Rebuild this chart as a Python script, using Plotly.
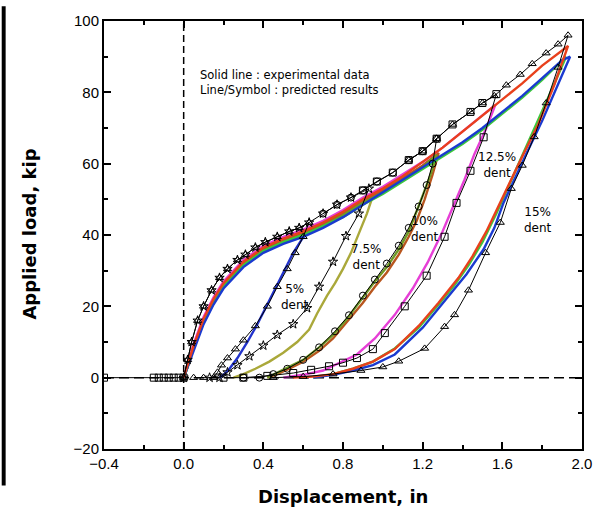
import plotly.graph_objects as go

# ---------------- experimental data (solid coloured lines) ----------------
exp5_x = [0, 0.02, 0.05, 0.1, 0.15, 0.2, 0.25, 0.3, 0.35, 0.4, 0.45, 0.5, 0.55, 0.6, 0.62,
          0.59, 0.55, 0.51, 0.47, 0.42, 0.37, 0.32, 0.27, 0.23, 0.2, 0.18]
exp5_y = [0, 3, 8.5, 15.5, 21, 25.5, 29, 31.5, 33.5, 35.5, 37, 38.5, 39.5, 40.5, 41,
          38.5, 35, 30.5, 26, 20.5, 15, 10, 5.5, 2.5, 0.8, 0]

exp75_x = [0, 0.02, 0.05, 0.1, 0.15, 0.2, 0.25, 0.3, 0.35, 0.4, 0.45, 0.5, 0.55, 0.6, 0.7, 0.8, 0.9, 0.95,
           0.92, 0.88, 0.84, 0.8, 0.76, 0.72, 0.67, 0.63, 0.57, 0.5, 0.43, 0.36, 0.3, 0.25]
exp75_y = [0, 3.5, 9, 16, 21.5, 26, 29.5, 32, 34, 36, 37.5, 38.5, 39.5, 40.5, 43, 46, 49.5, 51,
           46, 40.5, 35, 30.5, 26.5, 23, 18, 13.5, 10, 7, 4.5, 2.5, 1, 0]

exp10a_x = [0, 0.02, 0.05, 0.1, 0.15, 0.2, 0.3, 0.4, 0.5, 0.6, 0.7, 0.8, 0.9, 1.0, 1.1, 1.2, 1.27,
            1.24, 1.2, 1.16, 1.13, 1.08, 1.02, 0.96, 0.9, 0.82, 0.75, 0.68, 0.6, 0.53, 0.47, 0.42]
exp10a_y = [0, 3, 8.5, 15.5, 21, 25.5, 31.5, 35.5, 38, 40, 42.5, 45.5, 49, 52, 55.5, 59, 62.5,
            57, 51, 45, 41, 36, 31, 27, 22.5, 16.5, 12, 8.5, 5, 3, 1.5, 0]

exp10b_x = [0, 0.02, 0.05, 0.1, 0.15, 0.2, 0.3, 0.4, 0.5, 0.6, 0.7, 0.8, 0.9, 1.0, 1.1, 1.2, 1.28,
            1.25, 1.21, 1.17, 1.13, 1.08, 1.02, 0.96, 0.9, 0.82, 0.75, 0.68, 0.6, 0.53, 0.47, 0.42]
exp10b_y = [0, 3.5, 9, 16, 21.5, 26, 32, 36, 38.5, 40.5, 43, 46, 49.5, 52.5, 56, 59.5, 63,
            57, 50, 44, 39.5, 34.5, 29.5, 25.5, 21, 15.5, 11, 7.5, 4.5, 2.5, 1, 0]

exp125_x = [0, 0.02, 0.05, 0.1, 0.15, 0.2, 0.3, 0.4, 0.5, 0.6, 0.7, 0.8, 0.9, 1.0, 1.1, 1.2, 1.3, 1.4, 1.5, 1.565,
            1.52, 1.46, 1.41, 1.36, 1.3, 1.225, 1.15, 1.06, 0.96, 0.87, 0.77, 0.7, 0.6, 0.5]
exp125_y = [0, 4, 9.5, 17, 22.5, 27, 33, 37, 39.5, 41.5, 44, 47, 50.5, 53.5, 57, 60.5, 64.5, 69, 73.5, 76.5,
            70, 62.7, 55.5, 49, 41, 32.3, 25, 17.6, 11, 6.5, 3.8, 2, 0.8, 0]

exp15r_x = [0, 0.02, 0.05, 0.1, 0.15, 0.2, 0.3, 0.4, 0.5, 0.6, 0.7, 0.8, 0.9, 1.0, 1.1, 1.2, 1.3, 1.4, 1.5, 1.6, 1.7, 1.8, 1.93,
            1.86, 1.78, 1.7, 1.64, 1.58, 1.52, 1.45, 1.38, 1.28, 1.18, 1.06, 0.95, 0.85, 0.75, 0.65, 0.55]
exp15r_y = [0, 3.5, 9, 16.5, 22, 26.5, 32.5, 36.5, 39, 41, 43.5, 46.5, 50, 53, 56.5, 60.5, 64.5, 69, 73.5, 78, 82.5, 87.5, 93,
            82, 71, 62, 55, 48, 41, 34, 28, 21, 14.5, 8, 4.5, 2.5, 1, 0.3, 0]

exp15g_x = [0, 0.02, 0.05, 0.1, 0.15, 0.2, 0.3, 0.4, 0.5, 0.6, 0.7, 0.8, 0.9, 1.0, 1.1, 1.2, 1.3, 1.4, 1.5, 1.6, 1.7, 1.8, 1.92,
            1.85, 1.77, 1.7, 1.63, 1.57, 1.5, 1.43, 1.36, 1.28, 1.18, 1.06, 0.95, 0.85, 0.75, 0.65]
exp15g_y = [0, 3, 8.5, 15.5, 21, 25.5, 31.5, 35.5, 38, 40, 42.5, 45, 48.5, 51.5, 55, 58.5, 62, 65.5, 69.5, 74, 78.5, 83.5, 90,
            81, 71, 62, 53.5, 46, 38, 31.5, 26, 20.5, 14, 8.2, 4.5, 2.5, 1, 0]

exp15b_x = [0, 0.02, 0.05, 0.1, 0.15, 0.2, 0.3, 0.4, 0.5, 0.6, 0.7, 0.8, 0.9, 1.0, 1.1, 1.2, 1.3, 1.4, 1.5, 1.6, 1.7, 1.8, 1.9, 1.94,
            1.87, 1.8, 1.72, 1.66, 1.605, 1.56, 1.506, 1.42, 1.31, 1.2, 1.06, 0.95, 0.85, 0.75, 0.65]
exp15b_y = [0, 3, 8, 15, 20.5, 25, 31, 35, 37.5, 39.5, 42, 45, 48.5, 52, 55.5, 59, 62.5, 66, 70, 74.5, 79, 84, 89, 90,
            81, 72, 62.7, 55.5, 48.9, 42, 36, 29, 21.5, 14, 6.5, 3.5, 2, 0.8, 0]

# ---------------- predicted results (black line + open symbols) ----------------
pre_x = [-0.4, -0.15, -0.125, -0.1, -0.075, -0.05, -0.025, 0]
pre_y = [0, 0, 0, 0, 0, 0, 0, 0]

p5_x = [0, 0.02, 0.04, 0.07, 0.1, 0.14, 0.18, 0.22, 0.27, 0.31, 0.36, 0.41, 0.47, 0.53, 0.58, 0.63,
        0.6, 0.56, 0.52, 0.47, 0.42, 0.36, 0.3, 0.26, 0.22, 0.19, 0.17, 0.15, 0.1, 0.05]
p5_y = [0, 5, 10, 16, 20, 24.5, 28, 30.5, 33, 34.5, 36.5, 38, 39.5, 41, 42, 43.5,
        39.5, 35, 30.5, 25.5, 20, 14.5, 10.5, 8, 5.5, 3.5, 1.5, 0, 0, 0]

p75_x = [0, 0.02, 0.04, 0.07, 0.1, 0.14, 0.18, 0.22, 0.27, 0.31, 0.36, 0.41, 0.47, 0.53, 0.58, 0.63, 0.7, 0.77, 0.84, 0.93,
         0.88, 0.815, 0.75, 0.68, 0.62, 0.55, 0.47, 0.4, 0.33, 0.27, 0.22, 0.18, 0.13]
p75_y = [0, 5, 10, 16, 20, 24.5, 28, 30.5, 33, 34.5, 36.5, 38, 39.5, 41, 42, 43.5, 46, 48.5, 50.5, 53,
         46, 39.7, 32.5, 25.5, 19.5, 15, 12, 9, 6, 3.5, 1.5, 0, 0]

p10_x = [0.7, 0.77, 0.84, 0.9, 0.97, 1.05, 1.13, 1.2, 1.27,
         1.25, 1.22, 1.18, 1.13, 1.08, 1.02, 0.96, 0.9, 0.83, 0.76, 0.68, 0.6, 0.52, 0.45, 0.38, 0.3]
p10_y = [46, 48.5, 50.5, 52.5, 55, 57.5, 61, 63.5, 67,
         60, 54, 48, 42, 37, 32, 27.5, 23, 17.5, 13, 8.5, 5, 2.5, 1, 0, 0]

p125_x = [0.9, 0.97, 1.05, 1.13, 1.2, 1.27, 1.35, 1.44, 1.5, 1.57,
          1.506, 1.44, 1.37, 1.31, 1.22, 1.11, 1.01, 0.95, 0.87, 0.8, 0.73, 0.64, 0.55, 0.42, 0.3, 0.2]
p125_y = [52.5, 55, 57.5, 61, 63.5, 67, 71, 74.5, 77, 79.5,
          67.4, 58, 49, 39.5, 28.6, 20, 12.5, 8, 5.5, 4.2, 3.2, 2.2, 1.3, 0.5, 0, 0]

p15_x = [1.13, 1.2, 1.27, 1.35, 1.44, 1.5, 1.56, 1.62, 1.69, 1.75, 1.82, 1.88, 1.93,
         1.88, 1.82, 1.76, 1.7, 1.645, 1.59, 1.516, 1.43, 1.36, 1.31, 1.21, 1.08, 1.0, 0.89, 0.75, 0.6, 0.45]
p15_y = [61, 63.5, 67, 71, 74.5, 77, 79, 82, 85, 88, 91, 93.5, 96,
         87, 77, 67.5, 59.5, 53, 43.5, 35, 24.5, 17.6, 14.3, 8.2, 4.6, 3, 2, 1, 0.3, 0]

# ---------------- texts and ticks ----------------
x_ticks = [-0.4, 0.0, 0.4, 0.8, 1.2, 1.6, 2.0]
y_ticks = [-20, 0, 20, 40, 60, 80, 100]
note_lines = ["Solid line : experimental data", "Line/Symbol : predicted results"]
note_y = [84.8, 80.6]
dent_labels = ["5%<br>dent", "7.5%<br>dent", "10%<br>dent", "12.5%<br>dent", "15%<br>dent"]
dent_x = [0.56, 0.92, 1.21, 1.575, 1.78]
dent_y = [22.6, 33.8, 41.8, 59.5, 44.3]

FONT = "DejaVu Sans, Liberation Sans, Arial"

fig = go.Figure()

exp_series = [
    (exp5_x, exp5_y, "#2233cc"),
    (exp75_x, exp75_y, "#aaa83a"),
    (exp10b_x, exp10b_y, "#b8561e"),
    (exp10a_x, exp10a_y, "#6f9a26"),
    (exp125_x, exp125_y, "#e63fd6"),
    (exp15g_x, exp15g_y, "#3cc83c"),
    (exp15b_x, exp15b_y, "#1a3ad0"),
    (exp15r_x, exp15r_y, "#e8401c"),
]
for xs, ys, c in exp_series:
    fig.add_trace(go.Scatter(x=xs, y=ys, mode="lines", line=dict(color=c, width=2.4),
                             showlegend=False, hoverinfo="skip"))

pred_series = [
    (pre_x, pre_y, "square-open"),
    (p5_x, p5_y, "triangle-up-open"),
    (p75_x, p75_y, "star-open"),
    (p10_x, p10_y, "circle-open"),
    (p125_x, p125_y, "square-open"),
    (p15_x, p15_y, "triangle-up-open"),
]
for xs, ys, s in pred_series:
    fig.add_trace(go.Scatter(x=xs, y=ys, mode="lines+markers",
                             line=dict(color="black", width=1),
                             marker=dict(symbol=s, size=7, color="black", line=dict(width=1, color="black")),
                             showlegend=False, hoverinfo="skip"))

# dashed reference lines
fig.add_shape(type="line", x0=0, x1=0, y0=-20, y1=100, xref="x", yref="y",
              line=dict(color="black", width=1.5, dash="7px,4px"), layer="below")
fig.add_shape(type="line", x0=-0.4, x1=2.0, y0=0, y1=0, xref="x", yref="y",
              line=dict(color="black", width=1.5, dash="10px,5px"), layer="below")

# black edge strip at left of picture
fig.add_shape(type="rect", xref="paper", yref="paper", x0=-104/486, x1=-100/486,
              y0=(449-486)/434, y1=449/434, fillcolor="black", line=dict(width=0))

for t, y in zip(note_lines, note_y):
    fig.add_annotation(x=0.07, y=y, xref="x", yref="y", text=t, showarrow=False,
                       xanchor="left", font=dict(family=FONT, size=11.5, color="black"))

for t, x, y in zip(dent_labels, dent_x, dent_y):
    fig.add_annotation(x=x, y=y, xref="x", yref="y", text=t, showarrow=False,
                       font=dict(family=FONT, size=12, color="black"))

fig.add_annotation(x=-0.156, y=0.502, xref="paper", yref="paper", text="<b>Applied load, kip</b>",
                   textangle=-90, showarrow=False, xanchor="center", yanchor="middle",
                   font=dict(family=FONT, size=18, color="black"))
fig.add_annotation(x=0.5, y=-0.11, xref="paper", yref="paper", text="<b>Displacement, in</b>",
                   showarrow=False, xanchor="center", yanchor="middle",
                   font=dict(family=FONT, size=18, color="black"))

axis_common = dict(showline=True, linecolor="black", linewidth=2, mirror="allticks",
                   ticks="inside", ticklen=7, tickwidth=1.5, tickcolor="black",
                   showgrid=False, zeroline=False,
                   tickfont=dict(family="Liberation Sans, Arial", size=15, color="black"))
fig.update_xaxes(range=[-0.4, 2.0], tickvals=x_ticks, tickformat=".1f",
                 minor=dict(ticks="inside", ticklen=4, dtick=0.2, tick0=0, tickcolor="black"),
                 **axis_common)
fig.update_yaxes(range=[-20, 100], tickvals=y_ticks,
                 minor=dict(ticks="inside", ticklen=4, dtick=10, tick0=0, tickcolor="black"),
                 **axis_common)

fig.update_layout(width=604, height=517, margin=dict(l=104, r=14, t=15, b=68),
                  plot_bgcolor="white", paper_bgcolor="white", showlegend=False)

fig.write_html("out.html")
